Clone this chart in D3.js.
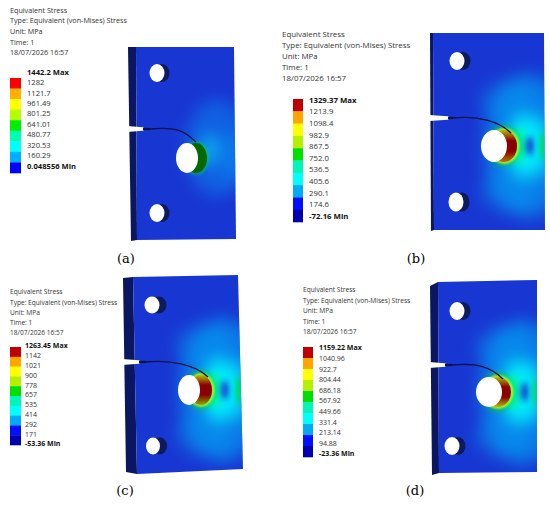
<!DOCTYPE html>
<html>
<head>
<meta charset="utf-8">
<script src="https://cdn.jsdelivr.net/npm/d3@7"></script>
<style>
  body { margin: 0; background: #fff; }
  svg { display: block; }
</style>
</head>
<body>
<svg id="fig" width="550" height="508"></svg>
<script>
// header text of every result legend
var headerLines = ["Equivalent Stress", "Type: Equivalent (von-Mises) Stress", "Unit: MPa", "Time: 1", "18/07/2026 16:57"];
var panelNames = ["(a)", "(b)", "(c)", "(d)"];

// legend tick labels (MPa), top = max, bottom = min
var legendA = ["1442.2", "1282", "1121.7", "961.49", "801.25", "641.01", "480.77", "320.53", "160.29", "0.048556"];
var legendB = ["1329.37", "1213.9", "1098.4", "982.9", "867.5", "752.0", "536.5", "405.6", "290.1", "174.6", "-72.16"];
var legendC = ["1263.45", "1142", "1021", "900", "778", "657", "535", "414", "292", "171", "-53.36"];
var legendD = ["1159.22", "1040.96", "922.7", "804.44", "686.18", "567.92", "449.66", "331.4", "213.14", "94.88", "-23.36"];

// contour band colours, top band first
var colors9 = ["#ff0000", "#ffb000", "#ffff00", "#b4ff00", "#00f000", "#00ffb0", "#00ffff", "#00b0ff", "#0000ff"];
var colors10 = ["#c00000", "#ffa500", "#ffff00", "#b4f000", "#00e000", "#00f5b8", "#00ffff", "#00aaf5", "#0010ff", "#0000b0"];

var faceBlue = "#1836d2", sideBlue = "#0b1660", wallBlue = "#0d1a5c";

// layout of the four panels (positions only)
var layout = [
  { legend: legendA, colors: colors9,
    hdr: { x: 10, y0: 10, dy: 10.7, fs: 7.2 },
    bar: { x: 10, y: 78, w: 11, h: 95 }, lab: { x: 27, y0: 72, y1: 166, fs: 7.6 },
    face: [[136, 47], [234, 47], [236, 239], [137, 240]],
    side: [[128, 47], [136, 47], [137, 240], [131, 241]],
    notch: { y: 129, x0: 127, w: 143, tip: 150 }, crackEnd: [196, 142],
    holes: [[157, 73, 7.5, 9, 5], [187, 158, 11, 15, 9], [157, 213, 7.5, 9, 5]],
    name: [126, 263], strong: false, wall: [0.5, 0.45, 0.45, 0.5] },
  { legend: legendB, colors: colors10,
    hdr: { x: 282, y0: 34, dy: 11, fs: 7.9 },
    bar: { x: 293, y: 99, w: 10, h: 123 }, lab: { x: 309, y0: 100, y1: 216, fs: 7.8 },
    face: [[433, 33], [544, 33], [545, 230], [434, 230]],
    side: [[430, 33], [433, 33], [434, 230], [431, 231]],
    notch: { y: 118, x0: 429, w: 448, tip: 453 }, crackEnd: [511, 133],
    holes: [[457, 61, 7.5, 9, 6], [494, 146, 13, 16, 10], [456, 202, 7.5, 9.5, 6]],
    name: [416, 263], strong: true, wall: [0.75, 0.95, 0.95, 0.8] },
  { legend: legendC, colors: colors10,
    hdr: { x: 10, y0: 292, dy: 10.2, fs: 6.6 },
    bar: { x: 10, y: 347, w: 11, h: 98 }, lab: { x: 25, y0: 346, y1: 444, fs: 7 },
    face: [[133, 277], [238, 275], [243, 469], [137, 474]],
    side: [[123, 278], [133, 277], [137, 474], [126, 472]],
    notch: { y: 362, x0: 122, w: 139, tip: 146 }, crackEnd: [208, 377],
    holes: [[152, 305, 7.5, 8.5, 7], [189, 390, 11, 15, 12], [153, 446, 7, 8.5, 7]],
    name: [125, 495], strong: true, wall: [0.7, 0.95, 0.95, 0.65] },
  { legend: legendD, colors: colors10,
    hdr: { x: 303, y0: 290, dy: 10.5, fs: 6.6 },
    bar: { x: 303, y: 347, w: 10, h: 110 }, lab: { x: 319, y0: 348, y1: 454, fs: 7 },
    face: [[438, 282], [537, 280], [537, 472], [439, 473]],
    side: [[430, 286], [438, 282], [439, 473], [432, 475]],
    notch: { y: 365, x0: 429, w: 445, tip: 452 }, crackEnd: [503, 379],
    holes: [[457, 311, 7.5, 9, 6], [489, 392, 13, 15, 9], [452, 446, 7.5, 9, 6]],
    name: [415, 495], strong: true, wall: [0.75, 0.95, 0.95, 0.78] }
];

var svg = d3.select("#fig");
var defs = svg.append("defs");
[["blurWide", 8], ["blurMid", 3.2], ["blurTight", 1.2]].forEach(function (f) {
  defs.append("filter").attr("id", f[0])
    .attr("x", "-100%").attr("y", "-100%").attr("width", "300%").attr("height", "300%")
    .append("feGaussianBlur").attr("stdDeviation", f[1]);
});

var line = d3.line();

layout.forEach(function (p, i) {
  var g = svg.append("g");
  var n = p.legend.length;
  // stress fraction -> contour colour
  var cScale = d3.scaleQuantize().domain([0, 1]).range(p.colors.slice().reverse());
  var shade = function (v) { return v === null ? faceBlue : cScale(v); };

  // header
  g.selectAll("text.hdr").data(headerLines).enter().append("text")
    .attr("x", p.hdr.x)
    .attr("y", function (d, k) { return p.hdr.y0 + k * p.hdr.dy + p.hdr.fs * 0.35; })
    .attr("font-family", "'Open Sans', 'Noto Sans', sans-serif")
    .attr("font-size", p.hdr.fs).attr("fill", "#333")
    .text(function (d) { return d; });

  // colour bar
  var yBand = d3.scaleBand().domain(d3.range(p.colors.length)).range([p.bar.y, p.bar.y + p.bar.h]);
  g.selectAll("rect.band").data(p.colors).enter().append("rect")
    .attr("x", p.bar.x).attr("y", function (d, k) { return yBand(k); })
    .attr("width", p.bar.w).attr("height", yBand.bandwidth() + 0.3)
    .attr("fill", function (d) { return d; });

  var yLab = d3.scalePoint().domain(d3.range(n)).range([p.lab.y0, p.lab.y1]);
  g.selectAll("text.lab").data(p.legend).enter().append("text")
    .attr("x", p.lab.x)
    .attr("y", function (d, k) { return yLab(k) + p.lab.fs * 0.35; })
    .attr("font-family", "'Open Sans', 'Noto Sans', sans-serif")
    .attr("font-size", p.lab.fs)
    .attr("font-weight", function (d, k) { return (k === 0 || k === n - 1) ? "bold" : "normal"; })
    .attr("fill", function (d, k) { return (k === 0 || k === n - 1) ? "#111" : "#333"; })
    .text(function (d, k) { return k === 0 ? d + " Max" : (k === n - 1 ? d + " Min" : d); });

  // specimen
  var clipId = "face" + i;
  defs.append("clipPath").attr("id", clipId).append("path").attr("d", line(p.face) + "Z");
  g.append("path").attr("d", line(p.side) + "Z").attr("fill", sideBlue);
  g.append("path").attr("d", line(p.face) + "Z").attr("fill", faceBlue);

  var big = p.holes[1];
  var right = (p.face[1][0] + p.face[2][0]) / 2;
  var cx = big[0], cy = big[1], rx = big[2], ry = big[3], dd = big[4];
  var wx = cx + dd; // centre of the hole's far wall
  var sets;
  if (p.strong) {
    sets = [
      ["blurWide", [
        [cx + 34, cy, 44, 72, 0.22, 0.55],
        [cx + 16, cy - 44, 30, 22, 0.2, 0.35],
        [cx + 16, cy + 44, 30, 22, 0.2, 0.35],
        [wx + rx + 7, cy, 16, 32, 0.33, 0.85],
        [right - 3, cy, 7, 32, 0.33, 0.75]
      ]],
      ["blurMid", [
        [wx + rx + 3, cy, 7, 19, 0.45, 0.8],
        [cx + 35, cy, 4.5, 10, null, 1],
        [right - 1, cy, 3, 14, 0.5, 0.8]
      ]]
    ];
  } else {
    sets = [
      ["blurWide", [
        [cx + 30, cy - 10, 32, 48, 0.2, 0.35],
        [wx + rx + 3, cy - 8, 9, 16, 0.3, 0.5],
        [right - 2, cy, 5, 28, 0.2, 0.55]
      ]]
    ];
  }
  var field = g.append("g").attr("clip-path", "url(#" + clipId + ")");
  sets.forEach(function (set) {
    field.append("g").attr("filter", "url(#" + set[0] + ")")
      .selectAll("ellipse").data(set[1]).enter().append("ellipse")
      .attr("cx", function (d) { return d[0]; }).attr("cy", function (d) { return d[1]; })
      .attr("rx", function (d) { return d[2]; }).attr("ry", function (d) { return d[3]; })
      .attr("fill", function (d) { return shade(d[4]); })
      .attr("fill-opacity", function (d) { return d[5]; });
  });
  // bright rim hugging the loaded side of the hole
  field.append("ellipse").attr("filter", "url(#" + (p.strong ? "blurMid" : "blurTight") + ")")
    .attr("cx", wx).attr("cy", cy).attr("rx", rx + 1).attr("ry", ry + 1)
    .attr("fill", "none").attr("stroke", cScale(p.strong ? 0.5 : 0.45))
    .attr("stroke-width", p.strong ? 4 : 1.2).attr("stroke-opacity", p.strong ? 0.9 : 0.7);
  if (p.strong) {
    field.append("ellipse").attr("filter", "url(#blurTight)")
      .attr("cx", wx).attr("cy", cy).attr("rx", rx + 1).attr("ry", ry + 0.5)
      .attr("fill", "none").attr("stroke", cScale(0.75)).attr("stroke-width", 1.8);
  }

  // hole walls
  var gradId = "wall" + i;
  var grad = defs.append("linearGradient").attr("id", gradId)
    .attr("x1", 0).attr("y1", 0).attr("x2", 0).attr("y2", 1);
  grad.selectAll("stop").data(p.wall).enter().append("stop")
    .attr("offset", function (d, k) { return k / (p.wall.length - 1); })
    .attr("stop-color", function (d) { return d3.color(cScale(d)).darker(p.strong ? 0.9 : 2.3); });

  p.holes.forEach(function (h, k) {
    g.append("ellipse").attr("cx", h[0] + h[4]).attr("cy", h[1])
      .attr("rx", h[2]).attr("ry", h[3])
      .attr("fill", k === 1 ? "url(#" + gradId + ")" : wallBlue);
    g.append("ellipse").attr("cx", h[0]).attr("cy", h[1])
      .attr("rx", h[2]).attr("ry", h[3]).attr("fill", "#fff");
  });

  // notch and crack path
  var nt = p.notch;
  g.append("path")
    .attr("d", line([[nt.x0, nt.y - 3], [nt.w, nt.y - 1.8], [nt.w + 2, nt.y], [nt.w, nt.y + 1.8], [nt.x0, nt.y + 3]]) + "Z")
    .attr("fill", "#fff");
  g.append("path")
    .attr("d", "M" + nt.w + "," + nt.y + "L" + nt.tip + "," + nt.y)
    .attr("stroke", "#0a1248").attr("stroke-width", 2.2);
  var ce = p.crackEnd;
  g.append("path")
    .attr("d", "M" + nt.tip + "," + nt.y +
      "C" + (nt.tip + 25) + "," + (nt.y - 2.5) + " " + (ce[0] - 12) + "," + (ce[1] - 12) + " " + ce[0] + "," + ce[1])
    .attr("fill", "none").attr("stroke", "#0a1248").attr("stroke-width", 1.3);

  // panel name
  g.append("text").attr("x", p.name[0]).attr("y", p.name[1])
    .attr("text-anchor", "middle")
    .attr("font-family", "'DejaVu Serif', serif").attr("font-size", 13)
    .attr("fill", "#000").text(panelNames[i]);
});
</script>
</body>
</html>
